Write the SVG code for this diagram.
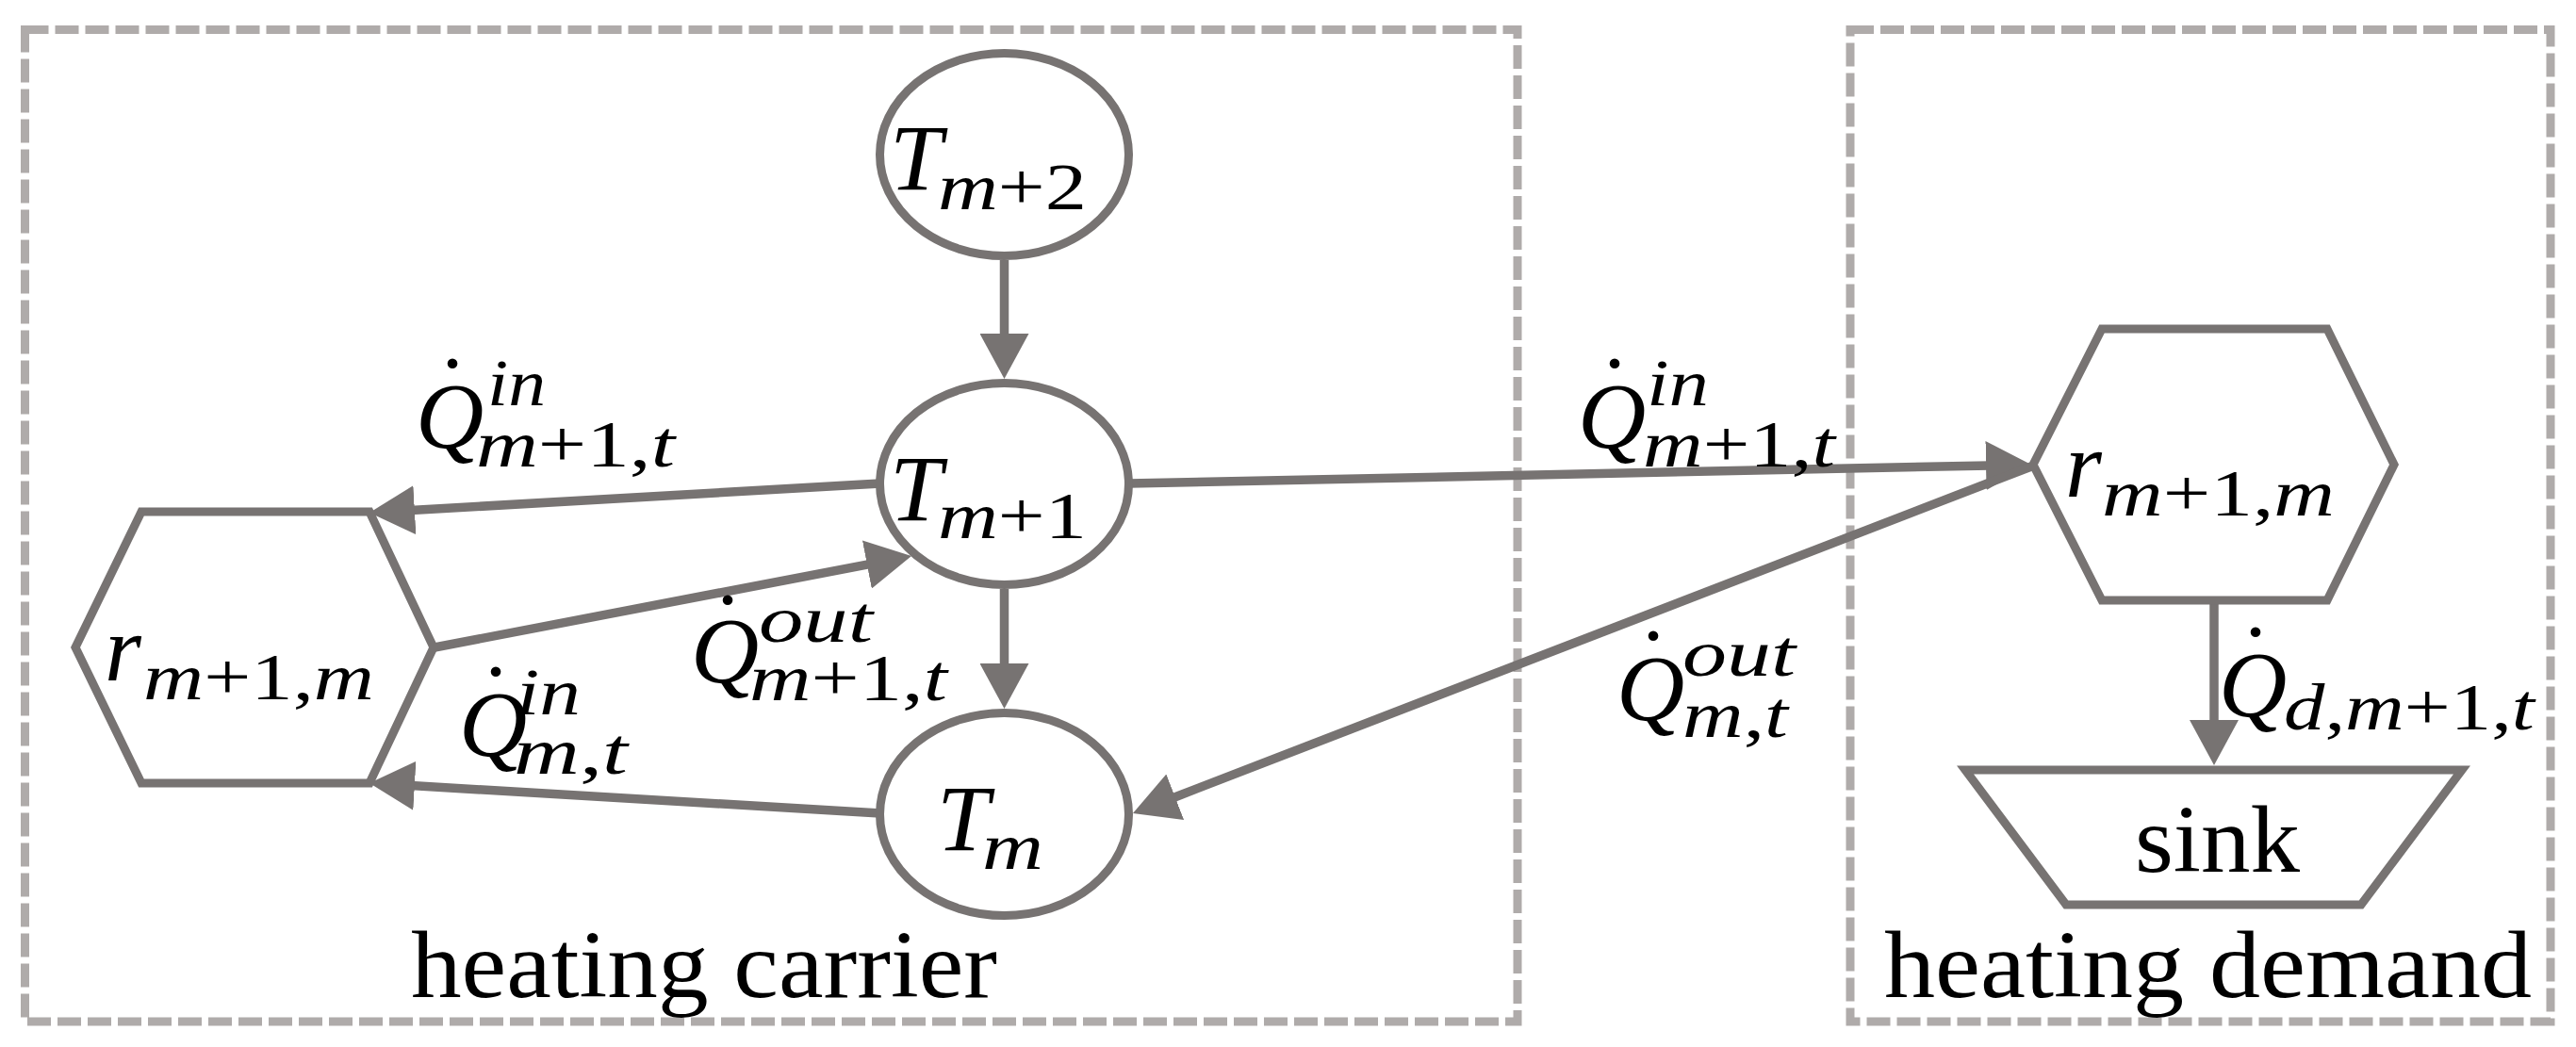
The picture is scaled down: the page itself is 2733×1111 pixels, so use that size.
<svg xmlns="http://www.w3.org/2000/svg" width="2733" height="1111" viewBox="0 0 2733 1111">
<style>
.box{fill:none;stroke:#afabaa;stroke-width:9;stroke-dasharray:25 7}
.shape{fill:#fff;stroke:#777372;stroke-width:9}
.edge{fill:none;stroke:#777372;stroke-width:9.5}
.mi{font-family:"Liberation Serif",serif;font-style:italic;font-size:100px;fill:#000}
.sc{font-family:"Liberation Serif",serif;font-style:italic;font-size:70px;fill:#000}
.up{font-style:normal}
.dot{font-family:"Liberation Serif",serif;font-size:100px;fill:#000;text-anchor:middle}
.lbl{font-family:"Liberation Serif",serif;font-size:102px;fill:#000}
</style>
<defs>
<marker id="ah" viewBox="0 0 48 52" refX="4" refY="26" markerWidth="48" markerHeight="52" markerUnits="userSpaceOnUse" orient="auto">
<path d="M0,0 L48,26 L0,52 z" fill="#777372"/>
</marker>
</defs>
<rect width="2733" height="1111" fill="#fff"/>
<g id="group-heating-carrier">
<rect class="box" x="26.5" y="31.5" width="1583.5" height="1052.5"/>
<text class="lbl" x="436" y="1058" textLength="622" lengthAdjust="spacingAndGlyphs">heating carrier</text>
</g>
<g id="group-heating-demand">
<rect class="box" x="1963" y="31.5" width="743" height="1052.5"/>
<text class="lbl" x="1999" y="1058" textLength="687" lengthAdjust="spacingAndGlyphs">heating demand</text>
</g>
<g id="connectors">
<line class="edge" x1="1065.5" y1="276" x2="1065.5" y2="358" marker-end="url(#ah)"/>
<line class="edge" x1="1065.5" y1="625" x2="1065.5" y2="708" marker-end="url(#ah)"/>
<line class="edge" x1="934" y1="513" x2="435.9" y2="541.5" marker-end="url(#ah)"/>
<line class="edge" x1="461" y1="687" x2="923.8" y2="598.3" marker-end="url(#ah)"/>
<line class="edge" x1="934" y1="863" x2="435.9" y2="833.6" marker-end="url(#ah)"/>
<line class="edge" x1="1198" y1="513" x2="2111" y2="493.9" marker-end="url(#ah)"/>
<line class="edge" x1="2155" y1="495" x2="1243" y2="847.2" marker-end="url(#ah)"/>
<line class="edge" x1="2349" y1="637" x2="2349" y2="768" marker-end="url(#ah)"/>
<g id="label-Qin-m1-left">
<text class="mi" x="441" y="475">Q</text>
<text class="dot" x="480" y="446">˙</text>
<text class="sc" x="517" y="430" textLength="62" lengthAdjust="spacingAndGlyphs">in</text>
<text class="sc" x="505" y="495" textLength="211" lengthAdjust="spacingAndGlyphs">m<tspan class="up">+1,</tspan>t</text>
</g>
<g id="label-Qin-m1-right">
<text class="mi" x="1674" y="475">Q</text>
<text class="dot" x="1713" y="446">˙</text>
<text class="sc" x="1747" y="430" textLength="66" lengthAdjust="spacingAndGlyphs">in</text>
<text class="sc" x="1743" y="495" textLength="204" lengthAdjust="spacingAndGlyphs">m<tspan class="up">+1,</tspan>t</text>
</g>
<g id="label-Qout-m1">
<text class="mi" x="733" y="724">Q</text>
<text class="dot" x="772" y="697">˙</text>
<text class="sc" x="805" y="681" textLength="121" lengthAdjust="spacingAndGlyphs">out</text>
<text class="sc" x="795" y="743" textLength="210" lengthAdjust="spacingAndGlyphs">m<tspan class="up">+1,</tspan>t</text>
</g>
<g id="label-Qin-m">
<text class="mi" x="487" y="802">Q</text>
<text class="dot" x="526" y="773">˙</text>
<text class="sc" x="548" y="758" textLength="68" lengthAdjust="spacingAndGlyphs">in</text>
<text class="sc" x="545" y="821" textLength="121" lengthAdjust="spacingAndGlyphs">m<tspan class="up">,</tspan>t</text>
</g>
<g id="label-Qout-m">
<text class="mi" x="1715" y="764">Q</text>
<text class="dot" x="1754" y="735">˙</text>
<text class="sc" x="1785" y="717" textLength="120" lengthAdjust="spacingAndGlyphs">out</text>
<text class="sc" x="1785" y="782" textLength="112" lengthAdjust="spacingAndGlyphs">m<tspan class="up">,</tspan>t</text>
</g>
<g id="label-Qd">
<text class="mi" x="2354" y="760">Q</text>
<text class="dot" x="2393" y="731">˙</text>
<text class="sc" x="2423" y="774" textLength="266" lengthAdjust="spacingAndGlyphs">d<tspan class="up">,</tspan>m<tspan class="up">+1,</tspan>t</text>
</g>
</g>
<g id="node-T-m2">
<ellipse class="shape" cx="1065.5" cy="164" rx="132" ry="107.5"/>
<text class="mi" x="944" y="201">T</text>
<text class="sc" x="995" y="222" textLength="158" lengthAdjust="spacingAndGlyphs">m<tspan class="up">+2</tspan></text>
</g>
<g id="node-T-m1">
<ellipse class="shape" cx="1065.5" cy="513.5" rx="132" ry="107"/>
<text class="mi" x="944" y="552">T</text>
<text class="sc" x="995" y="571" textLength="158" lengthAdjust="spacingAndGlyphs">m<tspan class="up">+1</tspan></text>
</g>
<g id="node-T-m">
<ellipse class="shape" cx="1065.5" cy="864" rx="132" ry="107.5"/>
<text class="mi" x="994" y="902">T</text>
<text class="sc" x="1042" y="922" textLength="65" lengthAdjust="spacingAndGlyphs">m</text>
</g>
<g id="node-r-left">
<polygon class="shape" points="80,687 150,543 392,543 460,687 392,831 150,831"/>
<text class="mi" x="111" y="722">r</text>
<text class="sc" x="152" y="742" textLength="245" lengthAdjust="spacingAndGlyphs">m<tspan class="up">+1,</tspan>m</text>
</g>
<g id="node-r-right">
<polygon class="shape" points="2157,493 2230,349 2469,349 2540,493 2469,637 2230,637"/>
<text class="mi" x="2191" y="527">r</text>
<text class="sc" x="2230" y="547" textLength="247" lengthAdjust="spacingAndGlyphs">m<tspan class="up">+1,</tspan>m</text>
</g>
<g id="node-sink">
<polygon class="shape" points="2085,817 2612,817 2505,960 2192,960"/>
<text class="lbl" x="2265" y="925" textLength="175" lengthAdjust="spacingAndGlyphs">sink</text>
</g>
</svg>
